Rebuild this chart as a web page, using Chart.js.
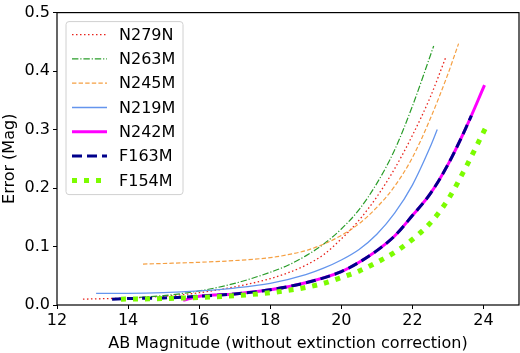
<!DOCTYPE html>
<html>
<head>
<meta charset="utf-8">
<script src="https://cdn.jsdelivr.net/npm/chart.js@4/dist/chart.umd.min.js"></script>
<style>
	html, body { margin: 0; padding: 0; background: #fff; }
	#wrap { width: 520px; height: 353px; }
</style>
</head>
<body>
<div id="wrap"><canvas id="chart" width="520" height="353"></canvas></div>
<script>
// values (AB magnitude vs. error in mag)
var labels = ["N279N", "N263M", "N245M", "N219M", "N242M", "F163M", "F154M"];

var n279nMag = [12.73, 14, 15, 16, 17, 18, 18.5, 19, 19.5, 20, 20.5, 21, 21.5, 22, 22.5, 22.93];
var n279nErr = [0.010, 0.012, 0.015, 0.021, 0.031, 0.045, 0.055, 0.068, 0.086, 0.113, 0.145, 0.185, 0.233, 0.290, 0.355, 0.422];

var n263mMag = [14, 15, 16, 17, 18, 18.5, 19, 19.5, 20, 20.5, 21, 21.5, 22, 22.6];
var n263mErr = [0.012, 0.016, 0.024, 0.037, 0.056, 0.068, 0.084, 0.104, 0.130, 0.163, 0.208, 0.265, 0.340, 0.443];

var n245mMag = [14.42, 15, 16, 17, 18, 18.5, 19, 19.5, 20, 20.5, 21, 21.5, 22, 22.5, 23, 23.3];
var n245mErr = [0.070, 0.071, 0.073, 0.076, 0.081, 0.086, 0.093, 0.104, 0.119, 0.139, 0.167, 0.203, 0.252, 0.318, 0.395, 0.447];

var n219mMag = [13.1, 14, 15, 16, 17, 18, 19, 19.5, 20, 20.5, 21, 21.5, 22, 22.5, 22.7];
var n219mErr = [0.020, 0.020, 0.021, 0.024, 0.029, 0.037, 0.052, 0.063, 0.077, 0.095, 0.121, 0.157, 0.205, 0.270, 0.300];

var n242mMag = [15.55, 16, 17, 18, 19, 20, 20.5, 21, 21.5, 22, 22.5, 23, 23.5, 24.03];
var n242mErr = [0.008, 0.015, 0.019, 0.026, 0.038, 0.057, 0.073, 0.093, 0.118, 0.153, 0.190, 0.240, 0.302, 0.376];

var f163mMag = [13.55, 14, 15, 16, 17, 18, 19, 20, 20.5, 21, 21.5, 22, 22.5, 23, 23.5, 23.66];
var f163mErr = [0.010, 0.011, 0.012, 0.015, 0.019, 0.026, 0.038, 0.057, 0.073, 0.093, 0.118, 0.153, 0.190, 0.240, 0.302, 0.324];

var f154mMag = [13.8, 15, 16, 17, 18, 19, 19.5, 20, 20.5, 21, 21.5, 22, 22.5, 23, 23.5, 24.06];
var f154mErr = [0.010, 0.011, 0.013, 0.016, 0.021, 0.030, 0.037, 0.047, 0.058, 0.073, 0.090, 0.112, 0.140, 0.180, 0.235, 0.303];

var xTicks = [12, 14, 16, 18, 20, 22, 24];
var yTicks = [0, 0.1, 0.2, 0.3, 0.4, 0.5];

function toPoints(xs, ys) {
	return xs.map(function (x, i) { return {x: x, y: ys[i]}; });
}

var FONT = "'DejaVu Sans', sans-serif";

function line(label, xs, ys, color, width, dash, idx) {
	return {
		label: label,
		data: toPoints(xs, ys),
		borderColor: color,
		backgroundColor: color,
		borderWidth: width,
		borderDash: dash,
		pointRadius: 0,
		fill: false,
		cubicInterpolationMode: 'monotone',
		borderCapStyle: 'butt',
		order: 6 - idx, // later series on top, as in the original
	};
}

var datasets = [
	line(labels[0], n279nMag, n279nErr, "#e8231c", 1.3, [1.5, 2.5], 0),
	line(labels[1], n263mMag, n263mErr, "#2a9d2a", 1.2, [6.4, 1.9, 1.2, 1.9], 1),
	line(labels[2], n245mMag, n245mErr, "#f5a043", 1.2, [4.4, 2.2], 2),
	line(labels[3], n219mMag, n219mErr, "#6495ed", 1.3, [], 3),
	line(labels[4], n242mMag, n242mErr, "#ff00ff", 3, [], 4),
	line(labels[5], f163mMag, f163mErr, "#00008b", 3, [10, 5], 5),
	line(labels[6], f154mMag, f154mErr, "#7cfc00", 5, [5, 7], 6),
];

// frame around the plot area
const chartAreaBorder = {
	id: 'chartAreaBorder',
	afterDraw(chart) {
		const {ctx, chartArea: {left, top, width, height}} = chart;
		ctx.save();
		ctx.strokeStyle = '#000';
		ctx.lineWidth = 1.2;
		ctx.strokeRect(left, top, width, height);
		ctx.restore();
	}
};

// legend box in the upper left corner of the plot
const innerLegend = {
	id: 'innerLegend',
	afterDraw(chart) {
		const {ctx, chartArea} = chart;
		const x0 = chartArea.left + 9, y0 = chartArea.top + 9;
		const w = 117, h = 173, r = 3;
		ctx.save();
		ctx.beginPath();
		ctx.roundRect(x0, y0, w, h, r);
		ctx.fillStyle = 'rgba(255,255,255,0.85)';
		ctx.fill();
		ctx.strokeStyle = '#d0d0d0';
		ctx.lineWidth = 1;
		ctx.stroke();
		chart.data.datasets.forEach(function (ds, i) {
			const y = y0 + 13 + i * 24.3;
			ctx.beginPath();
			ctx.setLineDash(ds.borderDash || []);
			ctx.lineCap = 'butt';
			ctx.strokeStyle = ds.borderColor;
			ctx.lineWidth = ds.borderWidth;
			ctx.moveTo(x0 + 6, y);
			ctx.lineTo(x0 + 41, y);
			ctx.stroke();
			ctx.setLineDash([]);
			ctx.fillStyle = '#000';
			ctx.font = '16px ' + FONT;
			ctx.textBaseline = 'middle';
			ctx.fillText(ds.label, x0 + 53, y + 1);
		});
		ctx.restore();
	}
};

var chart = new Chart(document.getElementById('chart'), {
	type: 'line',
	data: {datasets: datasets},
	options: {
		responsive: false,
		animation: false,
		layout: {padding: {left: 0, right: 1, top: 5, bottom: 0}},
		plugins: {
			legend: {display: false},
			tooltip: {enabled: false},
		},
		scales: {
			x: {
				type: 'linear',
				min: 12, max: 25,
				afterBuildTicks: function (scale) {
					scale.ticks = xTicks.map(function (v) { return {value: v}; });
				},
				afterFit: function (scale) { scale.height = 48; },
				ticks: {
					color: '#000',
					font: {family: FONT, size: 16},
					padding: 2,
					maxRotation: 0,
					callback: function (v) { return String(v); },
				},
				grid: {drawOnChartArea: false, color: '#000', tickLength: 4, tickWidth: 1},
				border: {display: false},
				title: {
					display: true,
					text: 'AB Magnitude (without extinction correction)',
					color: '#000',
					font: {family: FONT, size: 16},
					padding: {top: 1, bottom: 0},
				},
			},
			y: {
				type: 'linear',
				min: 0, max: 0.5,
				afterBuildTicks: function (scale) {
					scale.ticks = yTicks.map(function (v) { return {value: v}; });
				},
				afterFit: function (scale) { scale.width = 57; },
				ticks: {
					color: '#000',
					font: {family: FONT, size: 16},
					padding: 3,
					callback: function (v) { return v.toFixed(1); },
				},
				grid: {drawOnChartArea: false, color: '#000', tickLength: 4, tickWidth: 1},
				border: {display: false},
				title: {
					display: true,
					text: 'Error (Mag)',
					color: '#000',
					font: {family: FONT, size: 16},
					padding: {top: 0, bottom: 2},
				},
			},
		},
	},
	plugins: [chartAreaBorder, innerLegend],
});
</script>
</body>
</html>
